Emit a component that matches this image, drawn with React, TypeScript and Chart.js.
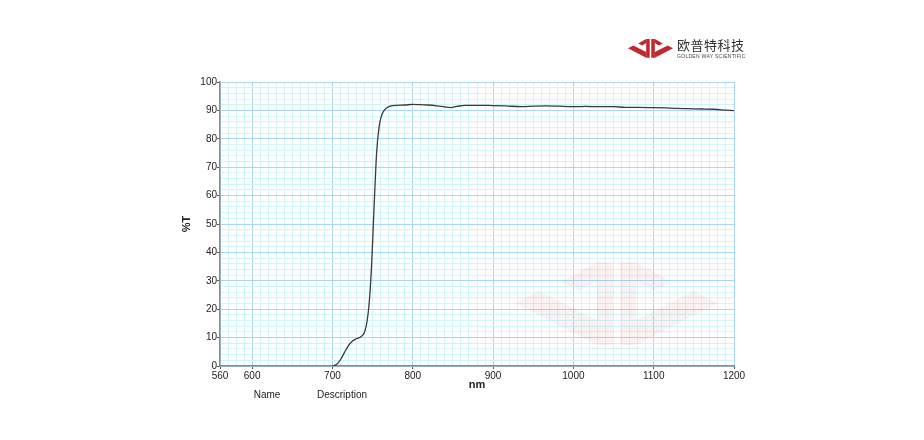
import React, { useEffect, useRef } from "react";
import { Chart, registerables } from "chart.js";

Chart.register(...registerables);

const wavelengths = [
  700, 705, 710, 715, 720, 725, 730, 735, 740, 743, 746, 749, 752, 755, 758, 761,
  765, 770, 775, 780, 790, 800, 810, 820, 830, 840, 847, 855, 865, 880, 900, 915,
  935, 950, 965, 980, 1000, 1015, 1030, 1050, 1065, 1080, 1100, 1120, 1140, 1160,
  1175, 1190, 1200,
];
const transmission = [
  0, 0.5, 2.2, 4.8, 7.2, 8.8, 9.6, 10.2, 12, 15.5, 23, 37, 57, 75, 84, 88,
  90.2, 91.3, 91.7, 91.8, 91.9, 92.1, 92.0, 91.9, 91.6, 91.2, 91.0, 91.4, 91.8, 91.8, 91.7, 91.6,
  91.3, 91.5, 91.6, 91.5, 91.3, 91.4, 91.3, 91.3, 91.1, 91.1, 91.0, 90.8, 90.6, 90.5,
  90.4, 90.1, 89.9,
];
const xMajorTicks = [560, 600, 700, 800, 900, 1000, 1100, 1200];
const yMajorTicks = [0, 10, 20, 30, 40, 50, 60, 70, 80, 90, 100];
const xTitle = "nm";
const yTitle = "%T";

const FONT = "'Liberation Sans', Arial, sans-serif";

function Symbol({ fill }: { fill: string }) {
  const left = [
    "0,41 24,29 82,58 82,83",
    "82,0 98,0 98,83 82,83",
    "46,20 82,0 82,18 64,29",
  ];
  const mirror = (p: string) =>
    p
      .split(" ")
      .map((pt) => {
        const [x, y] = pt.split(",").map(Number);
        return `${203 - x},${y}`;
      })
      .join(" ");
  return (
    <svg viewBox="0 0 203 84" width="100%" height="100%" preserveAspectRatio="none">
      {left.map((p, i) => (
        <polygon key={"l" + i} points={p} fill={fill} />
      ))}
      {left.map((p, i) => (
        <polygon key={"r" + i} points={mirror(p)} fill={fill} />
      ))}
    </svg>
  );
}

export default function App() {
  const ref = useRef<HTMLCanvasElement | null>(null);

  useEffect(() => {
    if (!ref.current) return;
    const isXMajor = (v: number) => xMajorTicks.includes(v);
    const isYMajor = (v: number) => yMajorTicks.includes(v);
    const chart = new Chart(ref.current, {
      type: "line",
      data: {
        datasets: [
          {
            data: wavelengths.map((w, i) => ({ x: w, y: transmission[i] })),
            borderColor: "#3a3a3a",
            borderWidth: 1.3,
            pointRadius: 0,
            cubicInterpolationMode: "monotone",
            fill: false,
          },
        ],
      },
      options: {
        animation: false,
        responsive: false,
        layout: { padding: { left: 180, top: 82, right: 190, bottom: 44 } },
        plugins: { legend: { display: false }, tooltip: { enabled: false } },
        scales: {
          x: {
            type: "linear",
            min: 560,
            max: 1200,
            afterFit: (s: any) => {
              s.height = 30;
            },
            ticks: {
              stepSize: 10,
              autoSkip: false,
              maxRotation: 0,
              padding: 1,
              color: "#222",
              font: { family: FONT, size: 10 },
              callback: (v: any) => (isXMajor(Number(v)) ? String(v) : ""),
            },
            grid: {
              color: (c: any) => (isXMajor(c.tick?.value) ? "#a9d5f7" : "#cff4fb"),
              tickColor: (c: any) => (isXMajor(c.tick?.value) ? "#555" : "rgba(0,0,0,0)"),
              tickLength: 3,
              lineWidth: 1,
            },
            border: { color: "#8a8a8a", width: 1.5 },
            title: {
              display: true,
              text: xTitle,
              color: "#222",
              font: { family: FONT, size: 11, weight: "bold" },
              padding: { top: 0, bottom: 4 },
            },
          },
          y: {
            min: 0,
            max: 100,
            afterFit: (s: any) => {
              s.width = 40;
            },
            ticks: {
              stepSize: 2,
              autoSkip: false,
              padding: 0,
              color: "#222",
              font: { family: FONT, size: 10 },
              callback: (v: any) => (isYMajor(Number(v)) ? String(v) : ""),
            },
            grid: {
              color: (c: any) => (isYMajor(c.tick?.value) ? "#a9d5f7" : "#cff4fb"),
              tickColor: (c: any) => (isYMajor(c.tick?.value) ? "#555" : "rgba(0,0,0,0)"),
              tickLength: 3,
              lineWidth: 1,
            },
            border: { color: "#8a8a8a", width: 1.5 },
            title: {
              display: true,
              text: yTitle,
              color: "#222",
              font: { family: FONT, size: 11, weight: "bold" },
              padding: { top: 0, bottom: 0 },
            },
          },
        },
      },
    } as any);
    return () => chart.destroy();
  }, []);

  const label = (text: string, x: number, y: number, extra: React.CSSProperties = {}) => (
    <div
      style={{
        position: "absolute",
        left: x,
        top: y,
        transform: "translate(-50%, -50%)",
        whiteSpace: "nowrap",
        fontFamily: FONT,
        fontSize: 10,
        color: "#222",
        ...extra,
      }}
    >
      {text}
    </div>
  );

  return (
    <div style={{ position: "relative", width: 924, height: 440, background: "#fff" }}>
      <style>{`body{margin:0;}`}</style>
      <canvas ref={ref} width={924} height={440} style={{ position: "absolute", left: 0, top: 0 }} />
      <div style={{ position: "absolute", left: 515, top: 262, width: 203, height: 84, pointerEvents: "none" }}>
        <Symbol fill="rgba(215,70,70,0.07)" />
      </div>
      <div style={{ position: "absolute", left: 628, top: 39, width: 45, height: 19 }}>
        <Symbol fill="#c1272d" />
      </div>
      <div
        style={{
          position: "absolute",
          left: 677,
          top: 37,
          fontFamily: "'Noto Sans CJK SC', sans-serif",
          fontSize: 13,
          lineHeight: "16px",
          color: "#333",
          letterSpacing: 0.5,
        }}
      >
        欧普特科技
      </div>
      <div
        style={{
          position: "absolute",
          left: 677,
          top: 53,
          fontFamily: FONT,
          fontSize: 5,
          lineHeight: "6px",
          color: "#444",
          whiteSpace: "nowrap",
          letterSpacing: 0.3,
        }}
      >
        GOLDEN WAY SCIENTIFIC
      </div>
      {label("Name", 267, 394)}
      {label("Description", 342, 394)}
    </div>
  );
}
